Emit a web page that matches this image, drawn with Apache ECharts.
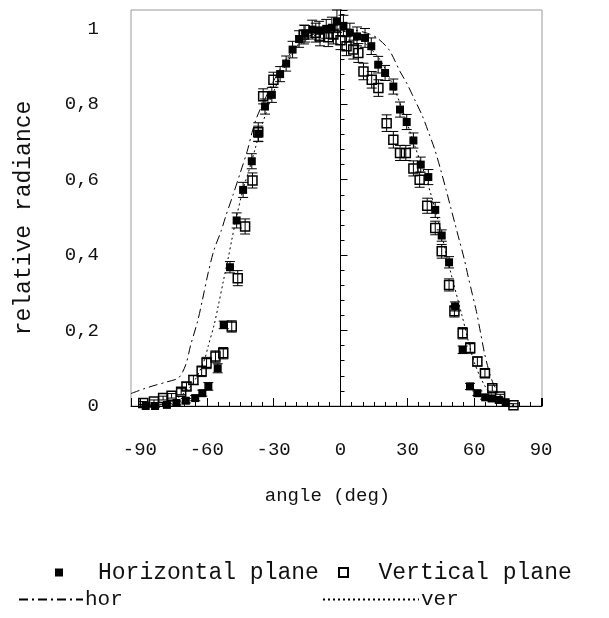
<!DOCTYPE html>
<html>
<head>
<meta charset="utf-8">
<script src="https://cdn.jsdelivr.net/npm/echarts@6/dist/echarts.min.js"></script>
<style>html,body{margin:0;padding:0;background:#fff;}#c{width:609px;height:618px;}</style>
</head>
<body>
<div id="c"></div>
<script>
// Horizontal plane (filled squares)
const horAngle = [-87.4, -83.2, -77.9, -73.6, -69.4, -65.2, -62.0, -59.3, -55.1, -52.4, -49.6, -46.6, -43.7, -39.8, -36.9, -33.9, -30.8, -27.1, -24.4, -21.5, -18.6, -15.9, -12.7, -9.6, -6.4, -3.9, -1.6, 1.3, 4.2, 7.4, 11.0, 13.8, 16.9, 20.0, 23.7, 26.7, 29.7, 32.7, 36.0, 39.4, 42.5, 45.4, 48.7, 51.4, 54.8, 58.1, 61.4, 64.9, 67.8, 71.0, 74.1];
const horValue = [0, 0, 0.003, 0.008, 0.014, 0.021, 0.034, 0.052, 0.1, 0.215, 0.368, 0.492, 0.573, 0.649, 0.722, 0.794, 0.825, 0.88, 0.908, 0.945, 0.973, 0.987, 0.998, 0.995, 1.0, 1.003, 1.02, 1.008, 0.99, 0.98, 0.976, 0.954, 0.905, 0.883, 0.847, 0.786, 0.753, 0.704, 0.64, 0.607, 0.52, 0.452, 0.381, 0.264, 0.149, 0.052, 0.034, 0.023, 0.02, 0.016, 0.01];
const horErr = [0.003,0.003,0.004,0.005,0.006,0.007,0.008,0.01,0.012,0.01,0.015,0.02,0.02,0.02,0.02,0.02,0.02,0.02,0.02,0.022,0.022,0.022,0.025,0.025,0.025,0.028,0.03,0.028,0.025,0.025,0.025,0.022,0.022,0.02,0.02,0.02,0.02,0.02,0.02,0.02,0.02,0.015,0.015,0.012,0.01,0.008,0.006,0.005,0.004,0.004,0.003];

// Vertical plane (open squares)
const verAngle = [-88.5, -83.7, -79.6, -75.8, -71.5, -69.1, -66.0, -62.3, -60.1, -56.1, -52.6, -48.8, -46.1, -42.8, -39.5, -36.9, -34.7, -30.1, -16.4, -11.1, -9.2, -5.5, -3.2, 0.0, 2.7, 5.7, 8.0, 10.3, 14.0, 17.0, 20.7, 23.7, 26.7, 29.3, 32.7, 35.5, 38.9, 42.5, 45.4, 48.7, 51.1, 54.8, 58.2, 61.4, 64.8, 68.1, 71.6, 77.6];
const verValue = [0.008,0.012,0.021,0.027,0.038,0.052,0.069,0.092,0.114,0.131,0.14,0.211,0.339,0.476,0.598,0.726,0.821,0.865,0.985,0.99,0.98,0.978,0.985,0.97,0.954,0.945,0.936,0.887,0.865,0.843,0.75,0.706,0.671,0.671,0.63,0.6,0.531,0.472,0.41,0.321,0.251,0.193,0.154,0.118,0.087,0.047,0.025,0.002];
const verErr = [0.004,0.004,0.005,0.006,0.008,0.01,0.012,0.014,0.015,0.015,0.015,0.015,0.02,0.02,0.02,0.025,0.02,0.02,0.025,0.025,0.025,0.025,0.025,0.025,0.025,0.025,0.025,0.022,0.022,0.022,0.022,0.022,0.02,0.02,0.02,0.02,0.02,0.018,0.018,0.016,0.015,0.015,0.014,0.012,0.01,0.008,0.006,0.004];

// Model curve "hor" (dash-dot)
const horCurveAngle = [-94, -88.5, -83.2, -77.9, -72.6, -69.4, -67.3, -64.1, -62.0, -59.3, -56.7, -53.5, -51.4, -48.2, -45.0, -41.9, -39.7, -37.6, -33.4, -30.2, -24.9, -19.6, -14.3, -9.0, -3.7, 1.6, 6.9, 12.2, 16.4, 21.7, 26.7, 29.7, 33.3, 36.8, 39.6, 42.3, 45.0, 47.3, 49.5, 51.5, 53.5, 55.5, 57.4, 59.2, 61.0, 62.8, 64.6, 66.5, 68.5, 71.5, 75.7, 81.0, 86.3, 90.4];
const horCurveValue = [0.033, 0.045, 0.055, 0.064, 0.075, 0.11, 0.16, 0.225, 0.28, 0.355, 0.415, 0.465, 0.505, 0.56, 0.618, 0.675, 0.725, 0.765, 0.82, 0.86, 0.915, 0.955, 0.98, 0.992, 0.998, 1.0, 0.996, 0.988, 0.976, 0.945, 0.887, 0.856, 0.812, 0.768, 0.724, 0.68, 0.625, 0.575, 0.525, 0.48, 0.435, 0.39, 0.34, 0.295, 0.25, 0.195, 0.14, 0.095, 0.06, 0.03, 0.01, -0.004, -0.008, -0.01];

// Model curve "ver" (dotted)
const verCurveAngle = [-83.2, -77.9, -74.7, -71.5, -68.3, -65.2, -63.0, -60.9, -59.3, -56.7, -54.9, -52.6, -50.3, -48.8, -46.6, -43.7, -40.8, -38.4, -35.5, -30.2, -24.9, -19.6, -14.3, -9.0, -3.7, 1.6, 6.9, 12.2, 17.5, 22.8, 28.1, 33.3, 38.6, 43.9, 49.2, 54.5, 59.8, 65.1, 70.4, 75.7, 81.0];
const verCurveValue = [0.0, 0.008, 0.015, 0.028, 0.045, 0.07, 0.095, 0.125, 0.16, 0.215, 0.264, 0.33, 0.395, 0.44, 0.503, 0.575, 0.63, 0.68, 0.74, 0.83, 0.9, 0.95, 0.975, 0.988, 0.993, 0.993, 0.98, 0.955, 0.92, 0.86, 0.78, 0.69, 0.6, 0.49, 0.36, 0.24, 0.12, 0.05, 0.018, 0.003, -0.003];

const xTickLabels = { '-90': '-90', '-60': '-60', '-30': '-30', '0': '0', '30': '30', '60': '60', '90': '90' };

const FONT = 'Liberation Mono';
const toPairs = (a, b) => a.map((v, i) => [v, b[i]]);
const toErr = (a, b, e) => a.map((v, i) => [v, b[i], e[i]]);

function errRender(params, api) {
  const x = api.value(0), y = api.value(1), e = api.value(2);
  const top = api.coord([x, y + e]);
  const bot = api.coord([x, y - e]);
  const w = 5;
  const st = { stroke: '#000', lineWidth: 1 };
  return {
    type: 'group',
    children: [
      { type: 'line', shape: { x1: top[0], y1: top[1], x2: bot[0], y2: bot[1] }, style: st },
      { type: 'line', shape: { x1: top[0] - w, y1: top[1], x2: top[0] + w, y2: top[1] }, style: st },
      { type: 'line', shape: { x1: bot[0] - w, y1: bot[1], x2: bot[0] + w, y2: bot[1] }, style: st }
    ]
  };
}

const chart = echarts.init(document.getElementById('c'), null, { renderer: 'canvas' });
const sq = 'path://M0,0L10,0L10,10L0,10Z';
const noSym = { color: 'rgba(0,0,0,0)', borderColor: 'rgba(0,0,0,0)', borderWidth: 0 };
chart.setOption({
  animation: false,
  backgroundColor: '#fff',
  textStyle: { fontFamily: FONT, color: '#111' },
  grid: { left: 131, right: 67, top: 10, bottom: 212, show: true, borderColor: '#999', borderWidth: 1 },
  xAxis: {
    type: 'value', min: -94, max: 90.4, splitNumber: 6,
    name: 'angle (deg)', nameLocation: 'middle', nameGap: 80,
    nameTextStyle: { fontFamily: FONT, fontSize: 19, color: '#111', padding: [0, 18, 0, 0] },
    axisLine: { show: true, lineStyle: { color: '#000', width: 1 } },
    axisTick: { show: true, inside: true, length: 8, lineStyle: { color: '#000' } },
    minorTick: { show: true, splitNumber: 6, length: 4, lineStyle: { color: '#000' } },
    splitLine: { show: false },
    axisLabel: { fontFamily: FONT, fontSize: 19, color: '#111', margin: 34,
      formatter: (v) => { const k = String(Math.round(v)); return (Math.abs(v - Math.round(v)) < 1e-6 && xTickLabels[k] !== undefined) ? xTickLabels[k] : ''; } }
  },
  yAxis: {
    type: 'value', min: 0, max: 1.05, interval: 0.2,
    name: 'relative radiance', nameLocation: 'middle', nameGap: 96,
    nameTextStyle: { fontFamily: FONT, fontSize: 23, color: '#111', padding: [0, 20, 0, 0] },
    axisLine: { show: true, lineStyle: { color: '#000', width: 1 } },
    axisTick: { show: true, inside: true, length: 7, lineStyle: { color: '#000' } },
    minorTick: { show: true, splitNumber: 5, length: 4, lineStyle: { color: '#000' } },
    splitLine: { show: false },
    axisLabel: { fontFamily: FONT, fontSize: 19, color: '#111', margin: 32, showMaxLabel: false,
      formatter: (v) => (Math.round(v * 10) / 10).toString().replace('.', ',') }
  },
  legend: [
    { left: 50, top: 556, itemWidth: 68, itemHeight: 8, icon: sq,
      textStyle: { fontFamily: FONT, fontSize: 23, color: '#111' },
      data: ['Horizontal plane'] },
    { left: 333, top: 556, itemWidth: 60, itemHeight: 9, icon: sq,
      textStyle: { fontFamily: FONT, fontSize: 23, color: '#111' },
      data: ['Vertical plane'] },
    { left: 13, top: 584, itemWidth: 64, itemHeight: 10, itemStyle: noSym,
      textStyle: { fontFamily: FONT, fontSize: 21, color: '#111', padding: [0, 0, 0, -3] },
      data: ['hor'] },
    { left: 317, top: 584, itemWidth: 96, itemHeight: 10, itemStyle: noSym,
      textStyle: { fontFamily: FONT, fontSize: 21, color: '#111', padding: [0, 0, 0, -3] },
      data: ['ver'] }
  ],
  series: [
    { name: 'hor', type: 'line', data: toPairs(horCurveAngle, horCurveValue), smooth: 0.3,
      symbol: 'none', lineStyle: { color: '#000', width: 1, type: [9, 4, 2, 4] }, itemStyle: { color: '#000' }, z: 2 },
    { name: 'ver', type: 'line', data: toPairs(verCurveAngle, verCurveValue), smooth: 0.3,
      symbol: 'none', lineStyle: { color: '#000', width: 1, type: [2, 3] }, itemStyle: { color: '#000' }, z: 2 },
    { name: 'hErr', type: 'custom', renderItem: errRender, data: toErr(horAngle, horValue, horErr), z: 3 },
    { name: 'vErr', type: 'custom', renderItem: errRender, data: toErr(verAngle, verValue, verErr), z: 3 },
    { name: 'Horizontal plane', type: 'scatter', data: toPairs(horAngle, horValue),
      symbol: 'rect', symbolSize: 8, itemStyle: { color: '#000', opacity: 1 }, z: 4 },
    { name: 'Vertical plane', type: 'scatter', data: toPairs(verAngle, verValue),
      symbol: 'rect', symbolSize: 9, itemStyle: { color: 'rgba(0,0,0,0)', borderColor: '#000', borderWidth: 1.5, opacity: 1 }, z: 5 }
  ]
});
</script>
</body>
</html>
